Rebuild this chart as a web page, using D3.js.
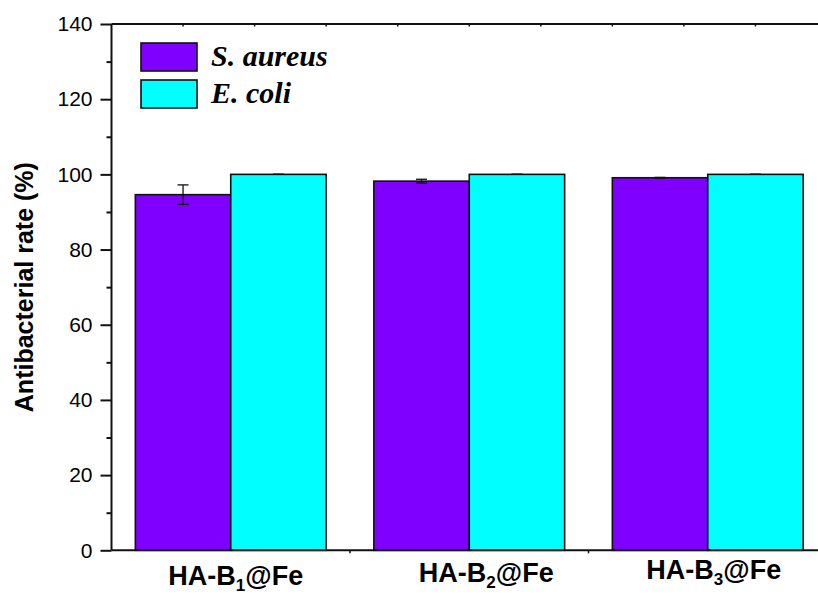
<!DOCTYPE html>
<html>
<head>
<meta charset="utf-8">
<script src="https://cdn.jsdelivr.net/npm/d3@7"></script>
<style>
  html, body { margin: 0; padding: 0; background: #fff; }
  svg { display: block; }
</style>
</head>
<body>
<svg id="chart" width="818" height="596"></svg>
<script>
// Antibacterial rate of the three HA-B@Fe samples against two strains
const categories = ["HA-B1@Fe", "HA-B2@Fe", "HA-B3@Fe"];
const labelSub = ["1", "2", "3"];
const series = ["S. aureus", "E. coli"];
const colors = ["#7F00FF", "#00FFFF"];
const aureusValues = [94.6, 98.2, 99.1];
const aureusErrors = [2.6, 0.5, 0.1];
const coliValues = [100, 100, 100];
const coliErrors = [0, 0, 0];
const yMajorTicks = [0, 20, 40, 60, 80, 100, 120, 140];
const yMinorTicks = [10, 30, 50, 70, 90, 110, 130];

const svg = d3.select("#chart");
const plotL = 111.5, plotR = 827, plotT = 24, plotB = 550.3;

const x = d3.scaleBand().domain(categories).range([plotL, plotR])
  .paddingInner(0.2).paddingOuter(0.1);
const xs = d3.scaleBand().domain(series).range([0, x.bandwidth()]);
const xLin = d3.scaleLinear().domain([0.5, 3.5]).range([plotL, plotR]);
const y = d3.scaleLinear().domain([0, 140]).range([plotB, plotT]);

const rows = categories.map((c, i) => ({
  cat: c,
  vals: [
    { s: series[0], v: aureusValues[i], e: aureusErrors[i], c: colors[0] },
    { s: series[1], v: coliValues[i], e: coliErrors[i], c: colors[1] }
  ]
}));

// bars
const g = svg.append("g");
const grp = g.selectAll("g.grp").data(rows).join("g")
  .attr("transform", d => `translate(${x(d.cat)},0)`);
grp.selectAll("rect").data(d => d.vals).join("rect")
  .attr("x", d => xs(d.s))
  .attr("width", xs.bandwidth())
  .attr("y", d => y(d.v))
  .attr("height", d => y(0) - y(d.v))
  .attr("fill", d => d.c)
  .attr("stroke", "#111")
  .attr("stroke-width", 1.6);

// error bars
const capW = 11;
grp.selectAll("g.err").data(d => d.vals).join("g").attr("class", "err")
  .each(function (d) {
    const cx = xs(d.s) + xs.bandwidth() / 2;
    const e = d3.select(this);
    e.append("line").attr("x1", cx).attr("x2", cx)
      .attr("y1", y(d.v + d.e)).attr("y2", y(d.v - d.e));
    e.append("line").attr("x1", cx - capW / 2).attr("x2", cx + capW / 2)
      .attr("y1", y(d.v + d.e)).attr("y2", y(d.v + d.e));
    e.append("line").attr("x1", cx - capW / 2).attr("x2", cx + capW / 2)
      .attr("y1", y(d.v - d.e)).attr("y2", y(d.v - d.e));
  })
  .selectAll("line").attr("stroke", "#111").attr("stroke-width", 1.3);

// frame: left, top, bottom axes
const axisColor = "#111";
svg.append("line").attr("x1", plotL).attr("x2", plotL).attr("y1", plotT).attr("y2", plotB)
  .attr("stroke", axisColor).attr("stroke-width", 2);
svg.append("line").attr("x1", plotL).attr("x2", 818).attr("y1", plotT).attr("y2", plotT)
  .attr("stroke", axisColor).attr("stroke-width", 2);
svg.append("line").attr("x1", plotL).attr("x2", 818).attr("y1", plotB).attr("y2", plotB)
  .attr("stroke", axisColor).attr("stroke-width", 2);

// y axis ticks
const yAxis = d3.axisLeft(y).tickValues(yMajorTicks).tickSize(11).tickPadding(8);
const ya = svg.append("g").attr("transform", `translate(${plotL},0)`).call(yAxis);
ya.select(".domain").remove();
ya.selectAll(".tick line").attr("stroke", axisColor).attr("stroke-width", 2);
ya.selectAll(".tick text").attr("fill", "#000")
  .style("font-family", "'Liberation Sans', Arial, sans-serif").style("font-size", "21px");
const yMinor = d3.axisLeft(y).tickValues(yMinorTicks).tickSize(5).tickFormat("");
const ym = svg.append("g").attr("transform", `translate(${plotL},0)`).call(yMinor);
ym.select(".domain").remove();
ym.selectAll(".tick line").attr("stroke", axisColor).attr("stroke-width", 2);

// small ticks on top and bottom edges
const topTicks = d3.range(8, 35, 3).map(v => v / 10);
svg.append("g").selectAll("line").data(topTicks).join("line")
  .attr("x1", d => xLin(d)).attr("x2", d => xLin(d))
  .attr("y1", plotT).attr("y2", plotT + 2.5)
  .attr("stroke", axisColor).attr("stroke-width", 1.5);
const bottomTicks = [1.5, 2.5];
svg.append("g").selectAll("line").data(bottomTicks).join("line")
  .attr("x1", d => xLin(d)).attr("x2", d => xLin(d))
  .attr("y1", plotB).attr("y2", plotB + 3)
  .attr("stroke", axisColor).attr("stroke-width", 1.5);

// category labels with subscripts
const labelDx = [5, 17, 6];
const labelBase = [585, 582, 579];
const xl = svg.append("g");
categories.forEach((c, i) => {
  const t = xl.append("text")
    .attr("x", x(c) + x.bandwidth() / 2 + labelDx[i])
    .attr("y", labelBase[i])
    .attr("text-anchor", "middle")
    .style("font-family", "'Liberation Sans', Arial, sans-serif")
    .style("font-weight", "bold").style("font-size", "27px").attr("fill", "#000");
  t.append("tspan").text("HA-B");
  t.append("tspan").text(labelSub[i]).attr("dy", 6).style("font-size", "17px");
  t.append("tspan").text("@Fe").attr("dy", -6);
});

// y axis title
svg.append("text")
  .attr("transform", `translate(33,${(plotT + plotB) / 2}) rotate(-90)`)
  .attr("text-anchor", "middle")
  .style("font-family", "'Liberation Sans', Arial, sans-serif")
  .style("font-weight", "bold").style("font-size", "25px").attr("fill", "#000")
  .text("Antibacterial rate (%)");

// legend
const lg = svg.append("g");
series.forEach((s, i) => {
  lg.append("rect").attr("x", 141).attr("y", 43 + i * 37).attr("width", 56).attr("height", 28)
    .attr("fill", colors[i]).attr("stroke", "#111").attr("stroke-width", 1.6);
  lg.append("text").attr("x", 211).attr("y", 66 + i * 37)
    .style("font-family", "'Liberation Serif', 'Times New Roman', serif")
    .style("font-weight", "bold").style("font-style", "italic").style("font-size", "30px")
    .attr("fill", "#000").text(s);
});
</script>
</body>
</html>
